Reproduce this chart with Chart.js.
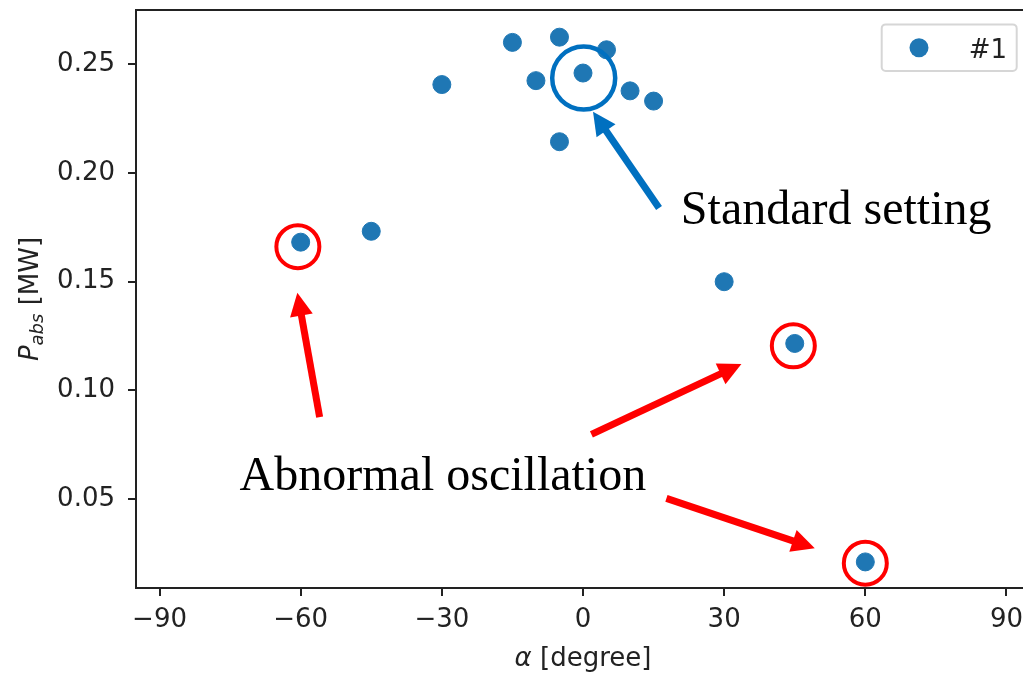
<!DOCTYPE html>
<html><head><meta charset="utf-8">
<script src="https://cdn.jsdelivr.net/npm/chart.js@4.4.1/dist/chart.umd.min.js"></script>
<style>
html,body{margin:0;padding:0;background:#fff;overflow:hidden;width:1023px;height:674px}
#wrap{position:absolute;left:0;top:0;width:1040px;height:674px}
</style>
</head><body><div id="wrap"><canvas id="c" width="1040" height="674"></canvas></div>
<script>
// ---- data ----
const seriesLabel = '#1';
const alphaDeg = [-60, -45, -30, -15, -10, -5, -5, 0, 5, 10, 15, 30, 45, 60];
const pAbs = [0.1682, 0.1732, 0.2407, 0.2601, 0.2425, 0.2625, 0.2144, 0.2460, 0.2567, 0.2378, 0.2331, 0.1500, 0.1216, 0.0211];
const xTicks = [-90, -60, -30, 0, 30, 60, 90];
const xTickLabels = ['\u221290', '\u221260', '\u221230', '0', '30', '60', '90'];
const yTicks = [0.05, 0.10, 0.15, 0.20, 0.25];
const yTickLabels = ['0.05', '0.10', '0.15', '0.20', '0.25'];
const xRange = [-95, 95];
const yRange = [0.0091, 0.2750];
const annotationTexts = ['Standard setting', 'Abnormal oscillation'];
// annotation anchors (data units)
const standardTextAt = [20.8, 0.1765];
const abnormalTextAt = [-72.98, 0.0541];
const blueCircleAt = [0.15, 0.2437];
const redCircleAt = [[-60.6, 0.1661], [44.7, 0.1205], [60.0, 0.0205]];
const blueArrow = [[16.16, 0.1839], [2.13, 0.2282]];
const redArrows = [
  [[-55.97, 0.0877], [-60.71, 0.1449]],
  [[1.79, 0.0798], [33.67, 0.1121]],
  [[17.73, 0.0503], [49.26, 0.0274]]
];

const TXT = '#222222';
const BLUE = '#1f77b4';
const SANS = '"DejaVu Sans"';
const FS = 26;

function arrow(ctx, x0, y0, x1, y1, color) {
  const dx = x1 - x0, dy = y1 - y0, L = Math.hypot(dx, dy);
  const ux = dx / L, uy = dy / L, hl = 23, hw = 11.5;
  ctx.save();
  ctx.strokeStyle = color; ctx.fillStyle = color; ctx.lineWidth = 7; ctx.lineCap = 'butt';
  ctx.beginPath(); ctx.moveTo(x0, y0); ctx.lineTo(x1 - ux * hl * 0.8, y1 - uy * hl * 0.8); ctx.stroke();
  const bx = x1 - ux * hl, by = y1 - uy * hl;
  ctx.beginPath(); ctx.moveTo(x1, y1);
  ctx.lineTo(bx - uy * hw, by + ux * hw);
  ctx.lineTo(bx + uy * hw, by - ux * hw);
  ctx.closePath(); ctx.fill();
  ctx.restore();
}

const annotPlugin = {
  id: 'annot',
  afterDatasetsDraw(chart) {
    const ctx = chart.ctx, xs = chart.scales.x, ys = chart.scales.y;
    const P = (p) => [xs.getPixelForValue(p[0]), ys.getPixelForValue(p[1])];
    ctx.save();
    let c = P(blueCircleAt);
    ctx.strokeStyle = '#0070c0'; ctx.lineWidth = 4.5;
    ctx.beginPath(); ctx.arc(c[0], c[1], 31.5, 0, Math.PI * 2); ctx.stroke();
    ctx.strokeStyle = '#ff0000'; ctx.lineWidth = 4;
    redCircleAt.forEach(p => { const q = P(p); ctx.beginPath(); ctx.arc(q[0], q[1], 21.5, 0, Math.PI * 2); ctx.stroke(); });
    let a = P(blueArrow[0]), b = P(blueArrow[1]);
    arrow(ctx, a[0], a[1], b[0], b[1], '#0070c0');
    redArrows.forEach(r => { const s = P(r[0]), t = P(r[1]); arrow(ctx, s[0], s[1], t[0], t[1], '#ff0000'); });
    ctx.fillStyle = '#000'; ctx.textBaseline = 'alphabetic'; ctx.textAlign = 'left';
    ctx.font = '48px "Liberation Serif"';
    let t = P(standardTextAt); ctx.fillText(annotationTexts[0], t[0], t[1]);
    t = P(abnormalTextAt); ctx.fillText(annotationTexts[1], t[0], t[1]);
    ctx.restore();
  },
  afterDraw(chart) {
    const ctx = chart.ctx, ca = chart.chartArea;
    ctx.save();
    ctx.strokeStyle = TXT; ctx.lineWidth = 2;
    ctx.beginPath(); ctx.moveTo(ca.left - 1, ca.top); ctx.lineTo(ca.right, ca.top); ctx.stroke();
    // legend
    const bx0 = ca.right - 148.3, by0 = ca.top + 14.4, bw = 135, bh = 46.6;
    ctx.strokeStyle = '#d6d6d6'; ctx.lineWidth = 2; ctx.fillStyle = 'rgba(255,255,255,0.8)';
    ctx.beginPath(); ctx.roundRect(bx0, by0, bw, bh, 4); ctx.fill(); ctx.stroke();
    ctx.fillStyle = BLUE; ctx.beginPath(); ctx.arc(bx0 + 37.3, by0 + 23.3, 9.5, 0, Math.PI * 2); ctx.fill();
    ctx.fillStyle = TXT; ctx.font = FS + 'px ' + SANS; ctx.textBaseline = 'alphabetic'; ctx.textAlign = 'left';
    ctx.fillText(chart.data.datasets[0].label, bx0 + 87, by0 + 33.5);
    // x title
    const cx = (ca.left + ca.right) / 2;
    ctx.font = 'italic ' + FS + 'px ' + SANS; const w1 = ctx.measureText('\u03b1').width;
    ctx.font = FS + 'px ' + SANS; const w2 = ctx.measureText(' [degree]').width;
    let sx = cx - (w1 + w2) / 2;
    ctx.font = 'italic ' + FS + 'px ' + SANS; ctx.fillText('\u03b1', sx, 666);
    ctx.font = FS + 'px ' + SANS; ctx.fillText(' [degree]', sx + w1, 666);
    // y title
    const cy = (ca.top + ca.bottom) / 2;
    ctx.translate(38, cy); ctx.rotate(-Math.PI / 2);
    ctx.font = 'italic ' + FS + 'px ' + SANS; const p1 = ctx.measureText('P').width;
    ctx.font = 'italic 18px ' + SANS; const p2 = ctx.measureText('abs').width;
    ctx.font = FS + 'px ' + SANS; const p3 = ctx.measureText(' [MW]').width;
    let s = -(p1 + p2 + p3) / 2;
    ctx.font = 'italic ' + FS + 'px ' + SANS; ctx.fillText('P', s, 0);
    ctx.font = 'italic 18px ' + SANS; ctx.fillText('abs', s + p1, 5);
    ctx.font = FS + 'px ' + SANS; ctx.fillText(' [MW]', s + p1 + p2, 0);
    ctx.restore();
  }
};

new Chart(document.getElementById('c'), {
  type: 'scatter',
  data: {
    datasets: [{
      label: seriesLabel,
      data: alphaDeg.map((x, i) => ({ x: x, y: pAbs[i] })),
      backgroundColor: BLUE, borderColor: BLUE, borderWidth: 1,
      pointRadius: 9, pointHoverRadius: 9
    }]
  },
  options: {
    responsive: false, animation: false, devicePixelRatio: 1,
    layout: { padding: { left: 0, top: 7, right: 10, bottom: 0 } },
    plugins: { legend: { display: false }, tooltip: { enabled: false } },
    scales: {
      x: {
        type: 'linear', min: xRange[0], max: xRange[1],
        afterBuildTicks: (sc) => { sc.ticks = xTicks.map(v => ({ value: v })); },
        afterFit: (sc) => { sc.height = 86; sc.paddingLeft = 0; sc.paddingRight = 0; },
        ticks: {
          font: { family: 'DejaVu Sans', size: FS }, color: TXT, padding: 9, maxRotation: 0, autoSkip: false,
          callback: (v, i) => xTickLabels[i]
        },
        grid: { drawOnChartArea: false, drawTicks: true, tickLength: 8, color: TXT, lineWidth: 2 },
        border: { display: true, color: TXT, width: 2 }
      },
      y: {
        type: 'linear', min: yRange[0], max: yRange[1],
        afterBuildTicks: (sc) => { sc.ticks = yTicks.map(v => ({ value: v })); },
        afterFit: (sc) => { sc.width = 136; sc.paddingTop = 0; sc.paddingBottom = 0; },
        ticks: {
          font: { family: 'DejaVu Sans', size: FS }, color: TXT, padding: 13, autoSkip: false,
          callback: (v, i) => yTickLabels[i]
        },
        grid: { drawOnChartArea: false, drawTicks: true, tickLength: 8, color: TXT, lineWidth: 2 },
        border: { display: true, color: TXT, width: 2 }
      }
    }
  },
  plugins: [annotPlugin]
});
</script>
</body></html>
